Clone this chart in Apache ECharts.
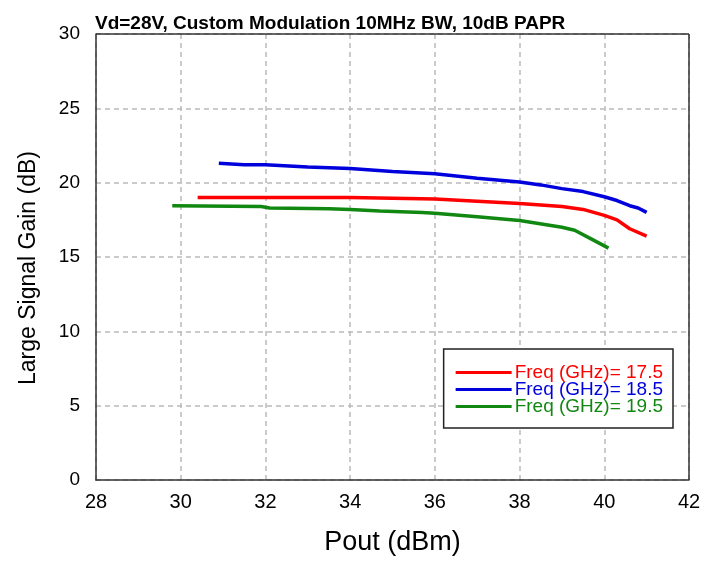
<!DOCTYPE html>
<html><head><meta charset="utf-8">
<script src="https://cdn.jsdelivr.net/npm/echarts@6/dist/echarts.min.js"></script>
<style>html,body{margin:0;padding:0;background:#fff}#c{width:705px;height:561px}</style>
</head><body><div id="c"></div>
<script>
const seriesNames = ['Freq (GHz)= 17.5', 'Freq (GHz)= 18.5', 'Freq (GHz)= 19.5'];
const seriesColors = ['#ff0000', '#0000dd', '#118811'];
const redX = [30.4, 32, 34, 35, 36, 37, 38, 39, 39.5, 40, 40.3, 40.6, 41];
const redY = [19.0, 19.0, 19.0, 18.95, 18.9, 18.75, 18.6, 18.4, 18.2, 17.8, 17.5, 16.9, 16.4];
const blueX = [30.9, 31.5, 32, 33, 34, 35, 36, 37, 38, 38.5, 39, 39.5, 40, 40.3, 40.6, 40.8, 41];
const blueY = [21.3, 21.2, 21.2, 21.05, 20.95, 20.75, 20.6, 20.3, 20.05, 19.85, 19.6, 19.4, 19.05, 18.8, 18.45, 18.3, 18.0];
const greenX = [29.8, 31.9, 32.1, 33.5, 34, 34.7, 35.7, 36, 37, 38, 39, 39.3, 39.7, 40.1];
const greenY = [18.45, 18.4, 18.3, 18.25, 18.2, 18.1, 18.0, 17.95, 17.7, 17.45, 17.0, 16.8, 16.2, 15.6];
const xTicks = [28, 30, 32, 34, 36, 38, 40, 42];
const yTicks = [0, 5, 10, 15, 20, 25, 30];
const titleText = 'Vd=28V, Custom Modulation 10MHz BW, 10dB PAPR';

const zip = (xs, ys) => xs.map((x, i) => [x, ys[i]]);
const allData = [zip(redX, redY), zip(blueX, blueY), zip(greenX, greenY)];
const font = 'Liberation Sans, Arial, sans-serif';

const chart = echarts.init(document.getElementById('c'));
chart.setOption({
  animation: false,
  title: {
    text: titleText, left: 90, top: 9,
    textStyle: {fontFamily: font, fontSize: 19, fontWeight: 'bold', color: '#000'}
  },
  grid: {left: 96, top: 34, width: 593, height: 448},
  legend: {
    right: 32, top: 349, orient: 'vertical',
    backgroundColor: '#fff', borderColor: '#222', borderWidth: 1.5,
    padding: [14, 10, 12, 12], itemGap: -2, itemWidth: 56, itemHeight: 17,
    icon: 'path://M0,7.5 L56,7.5 L56,10.5 L0,10.5 Z',
    data: seriesNames.map((n, i) => ({name: n, textStyle: {color: seriesColors[i]}})),
    textStyle: {fontFamily: font, fontSize: 19, padding: [0, 0, 0, -2]}
  },
  xAxis: {
    type: 'value', min: xTicks[0], max: xTicks[xTicks.length - 1], interval: 2,
    name: 'Pout (dBm)', nameLocation: 'middle', nameGap: 49,
    nameTextStyle: {fontFamily: font, fontSize: 27, color: '#000'},
    axisLine: {lineStyle: {color: '#333', width: 1.5}},
    axisTick: {show: false},
    axisLabel: {fontFamily: font, fontSize: 20, color: '#000', margin: 12},
    splitLine: {lineStyle: {color: '#bbb', type: [5, 4], width: 1.5}}
  },
  yAxis: {
    type: 'value', min: yTicks[0], max: yTicks[yTicks.length - 1], interval: 5,
    name: 'Large Signal Gain (dB)', nameLocation: 'middle', nameGap: 56,
    nameTextStyle: {fontFamily: font, fontSize: 23, color: '#000', padding: [0, 0, 0, -22]},
    axisLine: {show: true, lineStyle: {color: '#333', width: 1.5}},
    axisTick: {show: false},
    axisLabel: {fontFamily: font, fontSize: 19, color: '#000', margin: 16},
    splitLine: {lineStyle: {color: '#bbb', type: [5, 4], width: 1.5}}
  },
  series: allData.map((d, i) => ({
    name: seriesNames[i], type: 'line', data: d, showSymbol: false,
    lineStyle: {color: seriesColors[i], width: 3.5}, itemStyle: {color: seriesColors[i]}
  })).concat([{
    type: 'line', data: [], markLine: {silent: true, symbol: 'none', label: {show: false},
      lineStyle: {color: '#333', type: 'solid', width: 1.5},
      data: [{xAxis: xTicks[xTicks.length - 1]}, {yAxis: yTicks[yTicks.length - 1]}]}
  }])
});
</script></body></html>
